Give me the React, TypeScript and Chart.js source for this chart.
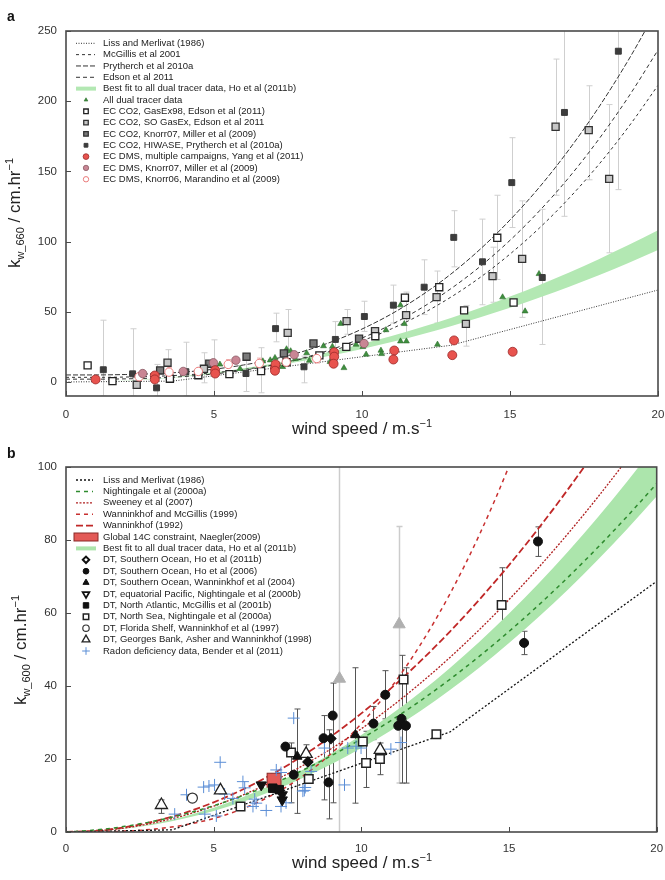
import React, { useEffect, useRef } from 'react';
import { Chart, registerables } from 'chart.js';
import { drawPoint } from 'chart.js/helpers';

Chart.register(...registerables);

const FONT = '"Liberation Sans", Arial, Helvetica, sans-serif';

type P = [number, number];
type EB = [number, number, number];

// ---------------- shared ----------------
const WIND = [0, 1, 2, 3, 4, 5, 6, 7, 8, 9, 10, 11, 12, 13, 14, 15, 16, 17, 18, 19, 20];
const X_MIN = 0;
const X_MAX = 20;
const X_STEP = 5;

// ---------------- panel a (k660) ----------------
const A_Y_MIN = -10;
const A_Y_MAX = 250;
const A_Y_STEP = 50;

const A_LM86_U = [0, 3.6, 13, 20];
const A_LM86_K = [0, 0.6, 26.1, 65.5];
const A_MCGILLIS = [3.3, 3.3, 3.5, 4.0, 5.0, 6.6, 8.9, 12.2, 16.6, 22.3, 29.3, 37.9, 48.2, 60.4, 74.6, 91.1, 109.8, 131.0, 154.9, 181.6, 211.3];
const A_PRYTHERCH = [5.0, 5.0, 5.3, 5.9, 7.1, 9.1, 12.1, 16.2, 21.7, 28.8, 37.7, 48.5, 61.5, 76.8, 94.7, 115.4, 138.9, 165.7, 195.7, 229.3, 266.6];
const A_EDSON = [2.0, 2.0, 2.2, 2.8, 3.9, 5.7, 8.3, 12.1, 17.0, 23.4, 31.3, 41.0, 52.6, 66.4, 82.4, 100.9, 122.0, 145.9, 172.9, 203.0, 236.4];
const A_BAND_UPPER = [0, 0.27, 1.08, 2.43, 4.32, 6.75, 9.72, 13.2, 17.3, 21.9, 27, 32.7, 38.9, 45.6, 52.9, 60.8, 69.1, 78.0, 87.5, 97.5, 108];
const A_BAND_LOWER = [0, 0.24, 0.94, 2.12, 3.76, 5.88, 8.46, 11.5, 15.0, 19.0, 23.5, 28.4, 33.8, 39.7, 46.1, 52.9, 60.2, 67.9, 76.1, 84.8, 94];

const A_DUAL: P[] = [[5.2, 12.5], [5.88, 9.4], [6.65, 14.8], [6.9, 15.5], [7.06, 17.2], [7.17, 12.5], [7.32, 10.8], [7.45, 23.4], [7.59, 22], [7.75, 16.5], [8.13, 20.6], [8.22, 15.2], [8.7, 25.6], [8.92, 14.4], [9.0, 25.2], [9.28, 41.5], [9.39, 10], [9.8, 26.7], [10.03, 25], [10.14, 19.6], [10.64, 22.4], [10.66, 20], [10.81, 37], [11.3, 54.7], [11.3, 29], [11.5, 29], [11.43, 41.4], [12.55, 26.7], [14.75, 60.4], [15.51, 50.4], [15.98, 77]];
const A_GASEX98: P[] = [[0.73, 11.8], [1.57, 0.6], [3.51, 2.3], [4.47, 4.8], [5.52, 5.6], [6.59, 7.7], [7.45, 14], [8.56, 18.9], [9.47, 25], [10.45, 32.6], [11.45, 60], [12.61, 67.5], [13.45, 51], [14.57, 102.7], [15.12, 56.6]];
const A_SOGASEX: P[] = [[2.39, -2], [3.43, 13.7], [4.66, 9.4], [7.49, 35], [9.48, 43.3], [10.44, 36.2], [11.49, 47.6], [12.52, 60.4], [13.51, 41.4], [14.41, 75.4], [15.41, 87.7], [16.54, 181.8], [17.66, 179.4], [18.35, 144.7]];
const A_KNORR07_CO2: P[] = [[3.18, 8.2], [4.84, 13], [6.1, 18], [7.36, 20.3], [8.36, 27.4], [9.9, 30.8]];
const A_HIWASE: P[] = [[1.26, 8.7], [2.25, 5.8], [3.06, -4.2], [4.05, 7.3], [6.08, 6], [7.08, 38], [8.04, 10.8], [9.1, 30.3], [10.08, 46.6], [11.06, 54.7], [12.1, 67.5], [13.1, 103], [14.07, 85.6], [15.06, 142], [16.09, 74.4], [16.84, 192], [18.66, 235.6]];
const A_YANG: P[] = [[1.0, 1.8], [3.0, 4.6], [3.0, 1.8], [5.04, 8.4], [5.04, 6], [7.06, 10], [7.08, 12.5], [7.06, 8], [9.06, 21.2], [9.06, 18], [9.04, 13], [11.09, 22.4], [11.06, 16], [13.11, 29.6], [13.05, 19.1], [15.09, 21.5]];
const A_KNORR07_DMS: P[] = [[2.59, 6], [3.96, 7.5], [4.98, 13.7], [5.74, 15.5], [7.71, 19.4], [10.07, 27.4]];
const A_KNORR06_DMS: P[] = [[2.47, 3.7], [3.48, 7], [4.47, 7.5], [5.48, 12.5], [6.53, 13.2], [7.44, 14.1], [8.47, 16.7]];

const A_ERR: EB[] = [[1.26, -10, 44], [2.25, -10, 37.9], [3.06, -10, 12.5], [4.05, -10, 28.3], [5.0, -10, 30], [3.43, 1.8, 23], [4.66, -0.6, 20.8], [6.08, -6.8, 18.4], [6.59, -7.7, 24.4], [7.08, 28.6, 49], [7.49, 13, 51.6], [8.04, -0.6, 18.4], [9.1, 19.6, 43], [9.48, 34, 51.6], [10.08, 36, 57.5], [11.06, 42, 69], [11.49, 34, 64], [12.1, 48, 87], [12.52, 42, 79], [13.1, 82, 122], [13.51, 25.5, 54.5], [14.07, 55, 116], [14.41, 56.8, 96], [14.57, 73, 133], [15.06, 110, 174], [15.41, 46, 129], [16.09, 26.7, 123], [16.54, 133, 230], [16.84, 118, 260], [17.66, 144, 211], [18.35, 92, 197.6], [18.66, 137, 260]];
const A_ERR_DMS: EB[] = [[2.47, 1, 6.5], [3.48, 4, 10.5], [4.47, 5, 10], [5.48, 10, 16], [6.53, 10, 17], [7.44, 11.5, 17], [8.47, 13.5, 20]];

// ---------------- panel b (k600) ----------------
const B_Y_MIN = 0;
const B_Y_MAX = 100;
const B_Y_STEP = 20;

const B_LM86_U = [0, 3.6, 13, 20];
const B_LM86_K = [0, 0.6, 27.4, 68.7];
const B_NIGHTINGALE = [0, 0.56, 1.55, 3.0, 4.88, 7.22, 9.99, 13.2, 16.87, 20.98, 25.53, 30.53, 35.96, 41.84, 48.17, 54.95, 62.16, 69.82, 77.92, 86.47, 95.46];
const B_SWEENEY = [0, 0.28, 1.13, 2.55, 4.53, 7.08, 10.19, 13.87, 18.11, 22.92, 28.3, 34.24, 40.75, 47.83, 55.47, 63.68, 72.45, 81.79, 91.69, 102.16, 113.2];
const B_WM99 = [0, 0.03, 0.24, 0.8, 1.9, 3.71, 6.42, 10.19, 15.21, 21.65, 29.7, 39.53, 51.32, 65.25, 81.5, 100.24, 121.65, 145.9, 173.2, 203.7, 237.6];
const B_W92 = [0, 0.33, 1.3, 2.93, 5.2, 8.13, 11.7, 15.93, 20.8, 26.33, 32.5, 39.33, 46.8, 54.93, 63.7, 73.13, 83.2, 93.93, 105.3, 117.3, 130];
const B_BAND_UPPER = [0, 0.27, 1.06, 2.39, 4.26, 6.65, 9.58, 13.03, 17.02, 21.55, 26.6, 32.19, 38.3, 44.95, 52.14, 59.85, 68.1, 76.87, 86.18, 96.03, 106.4];
const B_BAND_LOWER = [0, 0.23, 0.92, 2.07, 3.68, 5.75, 8.28, 11.27, 14.72, 18.63, 23, 27.83, 33.12, 38.87, 45.08, 51.75, 58.88, 66.47, 74.52, 83.03, 92];
const B_C14_U = [6.81, 7.28];
const B_C14_K = [12.3, 16.1];

const B_HO2011: P[] = [[8.19, 19.2], [8.97, 25.6]];
const B_HO2006: P[] = [[7.43, 23.4], [7.71, 15.7], [8.72, 25.7], [8.89, 13.6], [9.03, 31.9], [10.41, 29.7], [10.81, 37.6], [11.25, 29.1], [11.36, 31], [11.51, 29.1], [15.51, 51.8], [15.98, 79.6]];
const B_WANNINKHOF04: P[] = [[7.83, 20.7], [9.8, 26.6]];
const B_NIGHTINGALE00B: P[] = [[6.61, 12.9], [7.32, 10.2], [7.32, 8.8]];
const B_MCGILLIS01B: P[] = [[7.0, 12], [7.22, 11.6]];
const B_NORTHSEA: P[] = [[5.91, 7], [7.62, 21.8], [8.22, 14.5], [10.05, 24.8], [10.16, 18.9], [10.63, 20], [11.43, 41.8], [12.54, 26.8], [14.75, 62.2]];
const B_FLORIDA: P[] = [[4.28, 9.3]];
const B_GEORGES: P[] = [[3.23, 7.4], [5.23, 11.4], [8.13, 21.4], [10.64, 22.5]];
const B_GRAY_TRI: P[] = [[9.26, 42], [11.28, 56.9]];
const B_RADON: P[] = [[3.68, 4.9], [4.08, 10.2], [4.66, 12.3], [4.7, 4.9], [4.84, 12.6], [5.03, 12.9], [5.09, 4.4], [5.22, 19.1], [5.37, 10.4], [5.65, 9.2], [5.99, 13.8], [6.05, 12.1], [6.33, 7], [6.39, 9], [6.44, 7.9], [6.78, 5.9], [7.12, 17], [7.28, 16.3], [7.28, 7], [7.45, 8], [7.71, 31.2], [8.02, 11.2], [8.07, 11.4], [8.1, 12.2], [8.3, 16.6], [8.75, 23], [9.43, 12.9], [9.54, 23], [9.82, 23.5], [9.99, 23], [11.0, 22.7], [11.34, 24.5]];

const B_ERR: EB[] = [[3.23, 5.1, 8.8], [7.62, 8, 24.4], [7.82, 5.1, 33.7], [8.13, 19, 23.9], [8.72, 8.8, 31.9], [8.89, 3.6, 28], [9.03, 8, 40.8], [9.8, 7.9, 45], [10.16, 12.2, 27.6], [10.41, 25.3, 34.4], [10.64, 15.7, 24.4], [10.81, 31, 44.2], [11.36, 13.4, 48.4], [11.51, 13.4, 45], [12.54, 26, 27.8], [14.75, 51.6, 72.4], [15.51, 48.6, 55], [15.98, 75.5, 83.6]];
const B_ERR_GRAY: EB[] = [[9.26, -5, 110], [11.28, 13.4, 83.7]];

// ---------------- styles ----------------
const GREEN_A = '#b3e8b3';
const GREEN_B = '#ace5ac';

const S_DUAL = { style: 'triangle', radius: 3.4, fill: '#3f8f3f', color: '#2f6f2f', width: 0.6 };
const S_GASEX98 = { style: 'rect', radius: 5, fill: '#ffffff', color: '#222222', width: 1.3 };
const S_SOGASEX = { style: 'rect', radius: 5, fill: '#c6c6c6', color: '#333333', width: 1.3 };
const S_KNORR07_CO2 = { style: 'rect', radius: 5, fill: '#7a7a7a', color: '#333333', width: 1.3 };
const S_HIWASE = { style: 'rect', radius: 4.2, fill: '#3c3c3c', color: '#3c3c3c', width: 1 };
const S_YANG = { style: 'circle', radius: 4.5, fill: '#e8534e', color: '#9b2a2a', width: 0.8 };
const S_KNORR07_DMS = { style: 'circle', radius: 4.2, fill: '#c98694', color: '#8a5a64', width: 0.8 };
const S_KNORR06_DMS = { style: 'circle', radius: 4.2, fill: '#ffffff', color: '#ea7c7c', width: 1 };

const S_HO2011 = { style: 'rectRot', radius: 5, fill: '#111111', color: '#111111', width: 1.2 };
const S_HO2006 = { style: 'circle', radius: 4.5, fill: '#111111', color: '#111111', width: 1 };
const S_W04 = { style: 'triangle', radius: 5.5, fill: '#111111', color: '#111111', width: 1 };
const S_N00B = { style: 'triangle', radius: 6, fill: '#111111', color: '#111111', width: 1, rotation: 180 };
const S_MCG01B = { style: 'rect', radius: 6, fill: '#111111', color: '#111111', width: 1 };
const S_NSEA = { style: 'rect', radius: 6, fill: '#ffffff', color: '#222222', width: 1.5 };
const S_FLORIDA = { style: 'circle', radius: 5, fill: '#ffffff', color: '#333333', width: 1.2 };
const S_GEORGES = { style: 'triangle', radius: 7, fill: '#ffffff', color: '#222222', width: 1.3 };
const S_GRAY = { style: 'triangle', radius: 7, fill: '#b0b0b0', color: '#b0b0b0', width: 1 };
const S_RADON = { style: 'cross', radius: 6, fill: '#5b8ed6', color: '#5b8ed6', width: 1 };

// ---------------- helpers ----------------
const pts = (arr: P[]) => arr.map(([x, y]) => ({ x, y }));
const curve = (xs: number[], ys: number[]) => xs.map((x, i) => ({ x, y: ys[i] }));

function pointSet(data: P[], s: any) {
  return {
    type: 'scatter',
    data: pts(data),
    pointStyle: s.style,
    pointRadius: s.radius,
    pointHoverRadius: s.radius,
    pointBackgroundColor: s.fill,
    pointBorderColor: s.color,
    pointBorderWidth: s.width,
    pointRotation: s.rotation || 0,
    backgroundColor: s.fill,
    borderColor: s.color,
    order: 0,
  };
}

function lineSet(xs: number[], ys: number[], color: string, dash: number[], width: number, smooth = true) {
  return {
    type: 'line',
    data: curve(xs, ys),
    borderColor: color,
    borderDash: dash,
    borderWidth: width,
    pointRadius: 0,
    fill: false,
    tension: 0,
    cubicInterpolationMode: smooth ? 'monotone' : 'default',
    order: 1,
  };
}

function bandSets(xs: number[], upper: number[], lower: number[], color: string) {
  return [
    { type: 'line', data: curve(xs, upper), borderWidth: 0, borderColor: 'rgba(0,0,0,0)', backgroundColor: color, pointRadius: 0, fill: '+1', cubicInterpolationMode: 'monotone', order: 2 },
    { type: 'line', data: curve(xs, lower), borderWidth: 0, borderColor: 'rgba(0,0,0,0)', backgroundColor: color, pointRadius: 0, fill: false, cubicInterpolationMode: 'monotone', order: 2 },
  ];
}

function framePlugin() {
  return {
    id: 'frameTicks',
    afterDraw(chart: any) {
      const { ctx, chartArea: a, scales } = chart;
      ctx.save();
      ctx.strokeStyle = '#4a4a4a';
      ctx.lineWidth = 1;
      ctx.beginPath();
      for (const t of scales.x.ticks) {
        const p = Math.round(scales.x.getPixelForValue(t.value)) + 0.5;
        ctx.moveTo(p, a.bottom);
        ctx.lineTo(p, a.bottom - 5);
      }
      for (const t of scales.y.ticks) {
        const p = Math.round(scales.y.getPixelForValue(t.value)) + 0.5;
        ctx.moveTo(a.left, p);
        ctx.lineTo(a.left + 5, p);
      }
      ctx.stroke();
      ctx.lineWidth = 1.6;
      ctx.strokeRect(a.left, a.top, a.right - a.left, a.bottom - a.top);
      ctx.restore();
    },
  };
}

function errorBarPlugin(groups: { data: EB[]; color: string; width: number; cap: number }[]) {
  return {
    id: 'errorBars',
    beforeDatasetsDraw(chart: any) {
      const { ctx, chartArea: a, scales } = chart;
      const x = scales.x;
      const y = scales.y;
      ctx.save();
      ctx.beginPath();
      ctx.rect(a.left, a.top, a.right - a.left, a.bottom - a.top);
      ctx.clip();
      for (const g of groups) {
        ctx.strokeStyle = g.color;
        ctx.lineWidth = g.width;
        ctx.beginPath();
        for (const [xv, lo, hi] of g.data) {
          const px = Math.round(x.getPixelForValue(xv)) + 0.5;
          const p1 = y.getPixelForValue(lo);
          const p2 = y.getPixelForValue(hi);
          ctx.moveTo(px, p1);
          ctx.lineTo(px, p2);
          if (g.cap > 0) {
            ctx.moveTo(px - g.cap, p1);
            ctx.lineTo(px + g.cap, p1);
            ctx.moveTo(px - g.cap, p2);
            ctx.lineTo(px + g.cap, p2);
          }
        }
        ctx.stroke();
      }
      ctx.restore();
    },
  };
}

function boxPlugin() {
  return {
    id: 'c14Box',
    afterDatasetDraw(chart: any, args: any) {
      const ds = chart.data.datasets[args.index];
      if (!ds || !ds.c14Box) return;
      const m = args.meta.data;
      if (!m || m.length < 2) return;
      const { ctx } = chart;
      const x1 = Math.min(m[0].x, m[1].x);
      const x2 = Math.max(m[0].x, m[1].x);
      const y1 = Math.min(m[0].y, m[1].y);
      const y2 = Math.max(m[0].y, m[1].y);
      ctx.save();
      ctx.fillStyle = '#e35a57';
      ctx.strokeStyle = '#8a2a28';
      ctx.lineWidth = 1;
      ctx.fillRect(x1, y1, x2 - x1, y2 - y1);
      ctx.strokeRect(x1, y1, x2 - x1, y2 - y1);
      ctx.restore();
    },
  };
}

type LegendItem = { text: string; kind: string; s?: any; color?: string; dash?: number[]; width?: number; fill?: string; h?: number };

function legendPlugin(items: LegendItem[], L: any) {
  return {
    id: 'insetLegend',
    afterDraw(chart: any) {
      const { ctx } = chart;
      ctx.save();
      items.forEach((it, i) => {
        const y = L.y0 + i * L.dy;
        ctx.setLineDash([]);
        if (it.kind === 'line') {
          ctx.strokeStyle = it.color;
          ctx.lineWidth = it.width;
          ctx.setLineDash(it.dash || []);
          ctx.beginPath();
          ctx.moveTo(L.lx0, y);
          ctx.lineTo(L.lx1, y);
          ctx.stroke();
        } else if (it.kind === 'band') {
          ctx.fillStyle = it.fill;
          ctx.fillRect(L.bx0, y - (it.h || 4) / 2, L.bx1 - L.bx0, it.h || 4);
        } else if (it.kind === 'box') {
          ctx.fillStyle = it.fill;
          ctx.strokeStyle = it.color;
          ctx.lineWidth = 1;
          ctx.fillRect(L.bx0 - 2, y - 4, L.bx1 - L.bx0 + 4, 8);
          ctx.strokeRect(L.bx0 - 2, y - 4, L.bx1 - L.bx0 + 4, 8);
        } else if (it.kind === 'point') {
          const s = it.s;
          ctx.fillStyle = s.fill;
          ctx.strokeStyle = s.color;
          ctx.lineWidth = s.width;
          drawPoint(ctx, { pointStyle: s.style, radius: L.pr * (s.radius / 5), borderWidth: s.width, rotation: s.rotation || 0 }, L.cx, y);
        }
        ctx.setLineDash([]);
        ctx.fillStyle = '#222';
        ctx.font = `9.5px ${FONT}`;
        ctx.textBaseline = 'middle';
        ctx.textAlign = 'left';
        ctx.fillText(it.text, L.tx, y);
      });
      ctx.restore();
    },
  };
}

function baseOptions(yMin: number, yMax: number, yStep: number, topPad: number, xAxisH: number, xPad: number) {
  const tickFont = { family: FONT, size: 11.5 };
  return {
    responsive: false,
    animation: false,
    devicePixelRatio: 1,
    events: [],
    layout: { padding: { top: topPad, right: 7, left: 0, bottom: 0 } },
    plugins: { legend: { display: false }, tooltip: { enabled: false }, title: { display: false } },
    scales: {
      x: {
        type: 'linear',
        min: X_MIN,
        max: X_MAX,
        ticks: { stepSize: X_STEP, includeBounds: false, padding: xPad, font: tickFont, color: '#333', maxRotation: 0 },
        grid: { display: false, drawTicks: false },
        border: { display: false },
        afterFit: (s: any) => {
          s.height = xAxisH;
          s.paddingLeft = 0;
          s.paddingRight = 0;
        },
      },
      y: {
        type: 'linear',
        min: yMin,
        max: yMax,
        ticks: { stepSize: yStep, includeBounds: false, padding: 9, font: tickFont, color: '#333' },
        grid: { display: false, drawTicks: false },
        border: { display: false },
        afterFit: (s: any) => {
          s.width = 66;
          s.paddingTop = 0;
          s.paddingBottom = 0;
        },
      },
    },
  };
}

function buildA(): any {
  const legend: LegendItem[] = [
    { text: 'Liss and Merlivat (1986)', kind: 'line', color: '#333', dash: [1, 1.5], width: 1 },
    { text: 'McGillis et al 2001', kind: 'line', color: '#333', dash: [3, 3], width: 1 },
    { text: 'Prytherch et al 2010a', kind: 'line', color: '#333', dash: [5, 2], width: 1 },
    { text: 'Edson et al 2011', kind: 'line', color: '#333', dash: [4, 3], width: 1 },
    { text: 'Best fit to all dual tracer data, Ho et al (2011b)', kind: 'band', fill: GREEN_A, h: 4 },
    { text: 'All dual tracer data', kind: 'point', s: S_DUAL },
    { text: 'EC CO2, GasEx98, Edson et al (2011)', kind: 'point', s: S_GASEX98 },
    { text: 'EC CO2, SO GasEx, Edson et al 2011', kind: 'point', s: S_SOGASEX },
    { text: 'EC CO2, Knorr07, Miller et al (2009)', kind: 'point', s: S_KNORR07_CO2 },
    { text: 'EC CO2, HIWASE, Prytherch et al (2010a)', kind: 'point', s: S_HIWASE },
    { text: 'EC DMS, multiple campaigns, Yang et al (2011)', kind: 'point', s: S_YANG },
    { text: 'EC DMS, Knorr07, Miller et al (2009)', kind: 'point', s: S_KNORR07_DMS },
    { text: 'EC DMS, Knorr06, Marandino et al (2009)', kind: 'point', s: S_KNORR06_DMS },
  ];
  return {
    type: 'scatter',
    data: {
      datasets: [
        pointSet(A_YANG, S_YANG),
        pointSet(A_KNORR07_DMS, S_KNORR07_DMS),
        pointSet(A_KNORR06_DMS, S_KNORR06_DMS),
        pointSet(A_GASEX98, S_GASEX98),
        pointSet(A_SOGASEX, S_SOGASEX),
        pointSet(A_KNORR07_CO2, S_KNORR07_CO2),
        pointSet(A_HIWASE, S_HIWASE),
        pointSet(A_DUAL, S_DUAL),
        lineSet(A_LM86_U, A_LM86_K, '#333', [1, 1.5], 1, false),
        lineSet(WIND, A_MCGILLIS, '#333', [3, 3], 1),
        lineSet(WIND, A_PRYTHERCH, '#333', [5, 2], 1),
        lineSet(WIND, A_EDSON, '#333', [4, 3], 1),
        ...bandSets(WIND, A_BAND_UPPER, A_BAND_LOWER, GREEN_A),
      ],
    },
    options: baseOptions(A_Y_MIN, A_Y_MAX, A_Y_STEP, 31, 44, 12),
    plugins: [
      errorBarPlugin([
        { data: A_ERR, color: '#cfcfcf', width: 1, cap: 3 },
        { data: A_ERR_DMS, color: '#f0b0b0', width: 1, cap: 2.5 },
      ]),
      framePlugin(),
      legendPlugin(legend, { y0: 43.3, dy: 11.33, lx0: 76, lx1: 95, bx0: 76, bx1: 96, cx: 86, tx: 103, pr: 3.2 }),
    ],
  };
}

function buildB(): any {
  const legend: LegendItem[] = [
    { text: 'Liss and Merlivat (1986)', kind: 'line', color: '#111', dash: [2, 2], width: 1.3 },
    { text: 'Nightingale et al (2000a)', kind: 'line', color: '#2e8b2e', dash: [4, 4], width: 1.5 },
    { text: 'Sweeney et al (2007)', kind: 'line', color: '#b02020', dash: [2, 1.5], width: 1.3 },
    { text: 'Wanninkhof and McGillis (1999)', kind: 'line', color: '#c83030', dash: [4, 4], width: 1.5 },
    { text: 'Wanninkhof (1992)', kind: 'line', color: '#c02828', dash: [7, 3], width: 1.8 },
    { text: 'Global 14C constraint, Naegler(2009)', kind: 'box', fill: '#e35a57', color: '#8a2a28' },
    { text: 'Best fit to all dual tracer data, Ho et al (2011b)', kind: 'band', fill: GREEN_B, h: 4 },
    { text: 'DT, Southern Ocean, Ho et al (2011b)', kind: 'point', s: { ...S_HO2011, fill: '#fff', width: 2 } },
    { text: 'DT, Southern Ocean, Ho et al (2006)', kind: 'point', s: S_HO2006 },
    { text: 'DT, Southern Ocean, Wanninkhof et al (2004)', kind: 'point', s: S_W04 },
    { text: 'DT, equatorial Pacific, Nightingale et al (2000b)', kind: 'point', s: { ...S_N00B, fill: '#fff', width: 1.8 } },
    { text: 'DT, North Atlantic, McGillis et al (2001b)', kind: 'point', s: S_MCG01B },
    { text: 'DT, North Sea, Nightingale et al (2000a)', kind: 'point', s: S_NSEA },
    { text: 'DT, Florida Shelf, Wanninkhof et al (1997)', kind: 'point', s: S_FLORIDA },
    { text: 'DT, Georges Bank, Asher and Wanninkhof (1998)', kind: 'point', s: S_GEORGES },
    { text: 'Radon deficiency data, Bender et al (2011)', kind: 'point', s: S_RADON },
  ];
  return {
    type: 'scatter',
    data: {
      datasets: [
        pointSet(B_NIGHTINGALE00B, S_N00B),
        pointSet(B_MCGILLIS01B, S_MCG01B),
        pointSet(B_HO2011, S_HO2011),
        pointSet(B_HO2006, S_HO2006),
        pointSet(B_WANNINKHOF04, S_W04),
        pointSet(B_NORTHSEA, S_NSEA),
        pointSet(B_FLORIDA, S_FLORIDA),
        pointSet(B_GEORGES, S_GEORGES),
        pointSet(B_GRAY_TRI, S_GRAY),
        pointSet(B_RADON, S_RADON),
        { type: 'scatter', c14Box: true, data: curve(B_C14_U, B_C14_K), pointRadius: 0, order: 0.5 },
        lineSet(B_LM86_U, B_LM86_K, '#111', [2, 2], 1.3, false),
        lineSet(WIND, B_NIGHTINGALE, '#2e8b2e', [4, 4], 1.5),
        lineSet(WIND, B_SWEENEY, '#b02020', [2, 1.5], 1.3),
        lineSet(WIND, B_WM99, '#c83030', [4, 4], 1.5),
        lineSet(WIND, B_W92, '#c02828', [7, 3], 1.8),
        ...bandSets(WIND, B_BAND_UPPER, B_BAND_LOWER, GREEN_B),
      ],
    },
    options: baseOptions(B_Y_MIN, B_Y_MAX, B_Y_STEP, 27, 48, 10),
    plugins: [
      errorBarPlugin([
        { data: B_ERR_GRAY, color: '#cccccc', width: 1.5, cap: 3 },
        { data: B_ERR, color: '#555555', width: 1, cap: 3 },
      ]),
      boxPlugin(),
      framePlugin(),
      legendPlugin(legend, { y0: 40, dy: 11.4, lx0: 76, lx1: 93, bx0: 76, bx1: 96, cx: 86, tx: 103, pr: 3.2 }),
    ],
  };
}

const supStyle: React.CSSProperties = { fontSize: 11, position: 'relative', top: -7, verticalAlign: 'baseline' };
const subStyle: React.CSSProperties = { fontSize: 11, position: 'relative', top: 4, verticalAlign: 'baseline' };

function XTitle({ top }: { top: number }) {
  return (
    <div style={{ position: 'absolute', left: 362, top, transform: 'translate(-50%,-50%)', fontSize: 17, whiteSpace: 'nowrap', color: '#222', lineHeight: '20px' }}>
      wind speed / m.s<span style={supStyle}>−1</span>
    </div>
  );
}

function YTitle({ left, top, sub }: { left: number; top: number; sub: string }) {
  return (
    <div style={{ position: 'absolute', left, top, transform: 'translate(-50%,-50%) rotate(-90deg)', fontSize: 17, whiteSpace: 'nowrap', color: '#222', lineHeight: '20px' }}>
      k<span style={subStyle}>{sub}</span> / cm.hr<span style={supStyle}>−1</span>
    </div>
  );
}

export default function App() {
  const refA = useRef<HTMLCanvasElement>(null);
  const refB = useRef<HTMLCanvasElement>(null);
  useEffect(() => {
    const ca = new Chart(refA.current as HTMLCanvasElement, buildA());
    const cb = new Chart(refB.current as HTMLCanvasElement, buildB());
    return () => {
      ca.destroy();
      cb.destroy();
    };
  }, []);
  return (
    <div style={{ position: 'absolute', left: 0, top: 0, width: 665, height: 880, background: '#fff', fontFamily: FONT, overflow: 'hidden' }}>
      <canvas ref={refA} width={665} height={440} style={{ position: 'absolute', left: 0, top: 0, width: 665, height: 440 }} />
      <canvas ref={refB} width={665} height={440} style={{ position: 'absolute', left: 0, top: 440, width: 665, height: 440 }} />
      <div style={{ position: 'absolute', left: 7, top: 9, fontSize: 14, fontWeight: 'bold', lineHeight: '14px', color: '#111' }}>a</div>
      <div style={{ position: 'absolute', left: 7, top: 446, fontSize: 14, fontWeight: 'bold', lineHeight: '14px', color: '#111' }}>b</div>
      <XTitle top={429} />
      <XTitle top={863} />
      <YTitle left={15} top={213} sub="w_660" />
      <YTitle left={21} top={650} sub="w_600" />
    </div>
  );
}
